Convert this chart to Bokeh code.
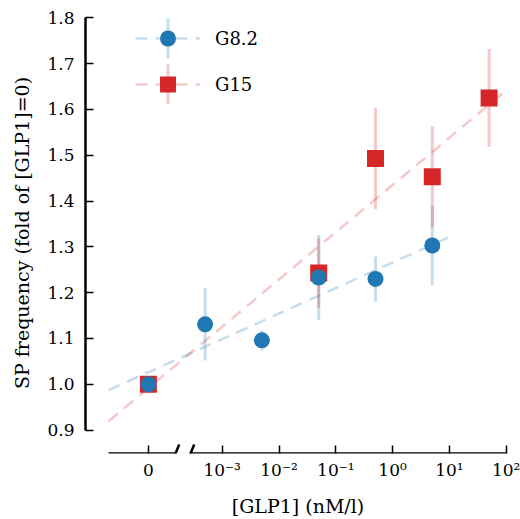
import numpy as np
from bokeh.plotting import figure
from bokeh.models import (Range1d, LinearAxis, FixedTicker, Arrow, Legend,
                          LegendItem, PrintfTickFormatter)
from bokeh.embed import file_html
from bokeh.resources import INLINE

# ---------------- data ----------------
conc_g82 = [0, 5e-4, 5e-3, 5e-2, 5e-1, 5]
sp_g82 = [1.000, 1.131, 1.096, 1.233, 1.230, 1.303]
err_g82 = [0.000, 0.079, 0.022, 0.093, 0.049, 0.087]

conc_g15 = [0, 5e-2, 5e-1, 5, 50]
sp_g15 = [1.000, 1.243, 1.493, 1.453, 1.625]
err_g15 = [0.000, 0.076, 0.111, 0.110, 0.107]

y_ticks = [0.9, 1.0, 1.1, 1.2, 1.3, 1.4, 1.5, 1.6, 1.7, 1.8]
x_decades = [-3, -2, -1, 0, 1, 2]
x_tick_labels = ["0", "10\u207b\u00b3", "10\u207b\u00b2", "10\u207b\u00b9",
                 "10\u2070", "10\u00b9", "10\u00b2"]

ZERO_POS = -4.3      # where concentration 0 sits on the broken log axis
AXIS_START = -5.0
BREAK_POS = -3.69

BLUE = "#1f77b4"
RED = "#d62728"
FONT = "DejaVu Serif"

def to_u(c):
    return [np.log10(v) if v > 0 else ZERO_POS for v in c]

u82 = to_u(conc_g82)
u15 = to_u(conc_g15)

# ---------------- figure ----------------
W, H = 520, 519
ML, MR, MT, MB = 85, 10, 12, 66
xr = Range1d(-5.407, 2.076)
yr = Range1d(0.849, 1.8115)
p = figure(width=W, height=H, x_range=xr, y_range=yr,
           output_backend="svg", toolbar_location=None,
           x_axis_location=None, y_axis_location=None,
           min_border_left=ML, min_border_right=MR,
           min_border_top=MT, min_border_bottom=MB)
p.grid.visible = False
p.outline_line_color = None
p.background_fill_color = "white"

fw = W - ML - MR
fh = H - MT - MB
def sx2u(sx):
    return xr.start + sx / fw * (xr.end - xr.start)
def sy2v(sy):  # sy from frame top
    return yr.end - sy / fh * (yr.end - yr.start)

# ---------------- fit lines ----------------
def fit_line(u, y, end):
    k, b = np.polyfit(u, y, 1)
    xs = np.array([AXIS_START, end])
    return xs, k * xs + b

fx82, fy82 = fit_line(u82, sp_g82, np.ceil(max(u82)))
fx15, fy15 = fit_line(u15, sp_g15, np.ceil(max(u15)))
l82 = p.line(fx82, fy82, line_color=BLUE, line_alpha=0.25, line_width=2.5, line_dash="12 8")
l15 = p.line(fx15, fy15, line_color=RED, line_alpha=0.25, line_width=2.5, line_dash="12 8")

# ---------------- error bars ----------------
def errbars(u, y, e, color):
    uu = [a for a, ee in zip(u, e) if ee > 0]
    y0 = [b - ee for b, ee in zip(y, e) if ee > 0]
    y1 = [b + ee for b, ee in zip(y, e) if ee > 0]
    p.segment(uu, y0, uu, y1, line_color=color, line_alpha=0.25, line_width=3)

errbars(u82, sp_g82, err_g82, BLUE)
errbars(u15, sp_g15, err_g15, RED)

s15 = p.scatter(u15, sp_g15, marker="square", size=17, fill_color=RED, line_color=None)
s82 = p.scatter(u82, sp_g82, marker="circle", size=16, fill_color=BLUE, line_color=None)

# ---------------- axes ----------------
yaxis = LinearAxis(ticker=FixedTicker(ticks=y_ticks), bounds=(0.9, 1.8),
                   formatter=PrintfTickFormatter(format="%.1f"),
                   axis_line_width=2.5, axis_line_color="black",
                   major_tick_in=8, major_tick_out=0, major_tick_line_width=1.5,
                   major_tick_line_color="black",
                   minor_tick_line_color=None,
                   major_label_standoff=11,
                   major_label_text_font=FONT, major_label_text_font_size="17px",
                   major_label_text_color="black",
                   axis_label="SP frequency (fold of [GLP1]=0)",
                   axis_label_text_font=FONT, axis_label_text_font_size="19px",
                   axis_label_text_color="black",
                   axis_label_text_font_style="normal", axis_label_standoff=11)
p.add_layout(yaxis, "left")

xticks = [ZERO_POS] + x_decades
xaxis = LinearAxis(ticker=FixedTicker(ticks=xticks),
                   major_label_overrides={t: lab for t, lab in zip(xticks, x_tick_labels)},
                   axis_line_color=None,
                   major_tick_in=8, major_tick_out=0, major_tick_line_width=1.5,
                   major_tick_line_color="black",
                   minor_tick_line_color=None,
                   major_label_standoff=6,
                   major_label_text_font=FONT, major_label_text_font_size="17px",
                   major_label_text_color="black",
                   axis_label="[GLP1] (nM/l)",
                   axis_label_text_font=FONT, axis_label_text_font_size="19px",
                   axis_label_text_color="black",
                   axis_label_text_font_style="normal", axis_label_standoff=12)
p.add_layout(xaxis, "below")

# broken x axis line with "//" marks
gap = 0.132
ybase = yr.start
dxs = 3.7 / fw * (xr.end - xr.start)
dys = 9.0 / fh * (yr.end - yr.start)
for a, b in [(AXIS_START, BREAK_POS - gap), (BREAK_POS + gap, x_decades[-1])]:
    p.add_layout(Arrow(end=None, x_start=a, y_start=ybase, x_end=b, y_end=ybase,
                       line_color="black", line_width=2.5))
for c in [BREAK_POS - gap, BREAK_POS + gap]:
    p.add_layout(Arrow(end=None, x_start=c - dxs, y_start=ybase - dys,
                       x_end=c + dxs, y_end=ybase + dys,
                       line_color="black", line_width=2.5))

# ---------------- legend ----------------
LEG_X, LEG_TOP, GH, GW, SP = 50, 6, 40, 65, 6
leg_h = 2 * GH + SP
legend = Legend(items=[LegendItem(label="G8.2", renderers=[l82, s82]),
                       LegendItem(label="G15", renderers=[l15, s15])],
                location=(LEG_X, fh - LEG_TOP - leg_h), padding=0, margin=0, spacing=SP,
                glyph_width=GW, glyph_height=GH, label_standoff=15,
                label_text_font=FONT, label_text_font_size="18px",
                label_text_color="black",
                border_line_color=None, background_fill_alpha=0)
p.add_layout(legend)

# vertical error-bar marks inside the legend glyphs
for i, col in enumerate([BLUE, RED]):
    cu = sx2u(LEG_X + GW / 2)
    top = sy2v(LEG_TOP + i * (GH + SP))
    bot = sy2v(LEG_TOP + i * (GH + SP) + GH)
    p.add_layout(Arrow(end=None, x_start=cu, y_start=bot, x_end=cu, y_end=top,
                       line_color=col, line_alpha=0.25, line_width=3, level="underlay"))

open("out.html", "w").write(file_html(p, INLINE))
